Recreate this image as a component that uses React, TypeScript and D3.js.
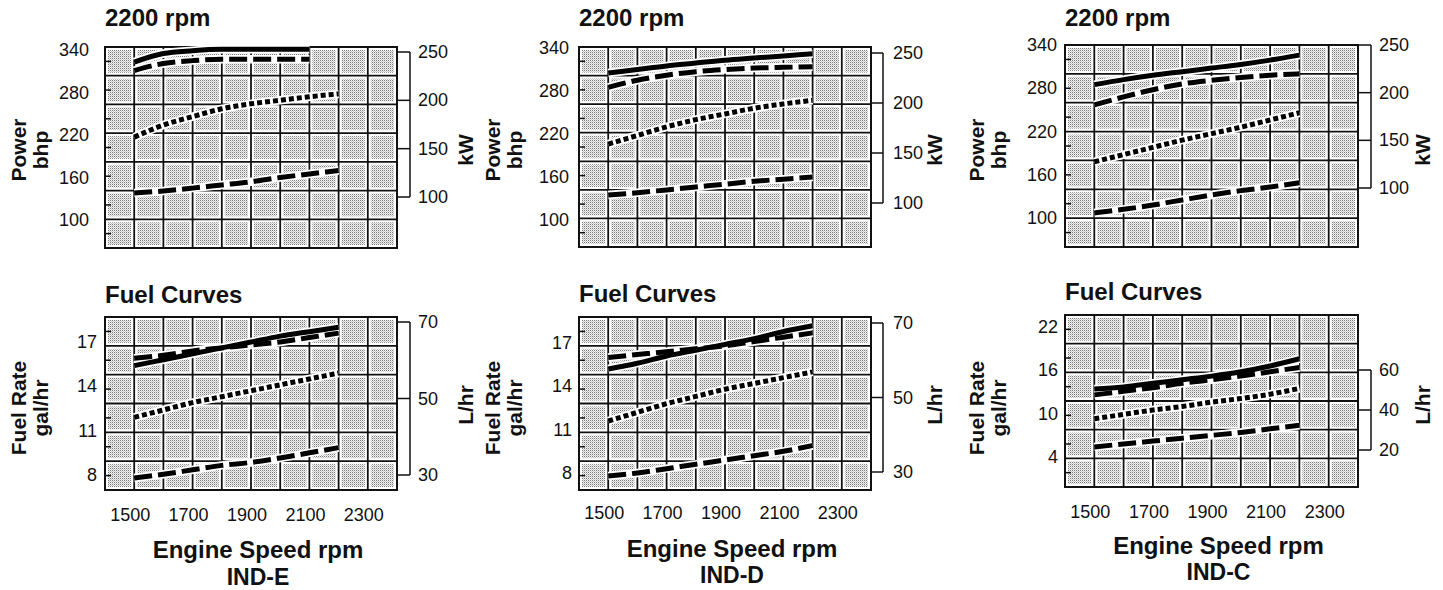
import React from 'react';
import * as d3 from 'd3';

// ---------------- data ----------------
const RPM = [1500, 1600, 1700, 1800, 1900, 2000, 2100, 2200];
const RPM_SHORT = [1500, 1600, 1700, 1800, 1900, 2000, 2100];

const X_TICKS = [1500, 1700, 1900, 2100, 2300];
const POWER_TICKS = [340, 280, 220, 160, 100];
const KW_TICKS = [250, 200, 150, 100];
const FUEL_TICKS_ED = [17, 14, 11, 8];
const LHR_TICKS_ED = [70, 50, 30];
const FUEL_TICKS_C = [22, 16, 10, 4];
const LHR_TICKS_C = [60, 40, 20];

// IND-E power (bhp)
const E_PWR_SOLID = [323, 335, 339, 341, 341, 341, 341];
const E_PWR_DASH = [311, 321, 325, 327, 327, 327, 327];
const E_PWR_DOT = [217, 234, 246, 257, 264, 269, 274, 278];
const E_PWR_DASH2 = [138, 141, 145, 149.5, 154, 160, 165, 170];
// IND-E fuel (gal/hr)
const E_FUEL_SOLID = [15.4, 15.8, 16.2, 16.6, 17.0, 17.4, 17.7, 18.0];
const E_FUEL_DASH = [15.9, 16.1, 16.4, 16.6, 16.8, 17.0, 17.3, 17.6];
const E_FUEL_DOT = [11.9, 12.4, 12.9, 13.3, 13.7, 14.1, 14.5, 14.9];
const E_FUEL_DASH2 = [7.8, 8.05, 8.35, 8.65, 8.85, 9.15, 9.5, 9.85];

// IND-D power
const D_PWR_SOLID = [305, 310, 315, 319, 323, 326, 329, 332];
const D_PWR_DASH = [285, 295, 302, 307, 310, 312, 313, 314];
const D_PWR_DOT = [206, 218, 230, 240, 248, 256, 262, 267];
const D_PWR_DASH2 = [135, 138, 142, 146, 150, 154, 157, 160];
// IND-D fuel
const D_FUEL_SOLID = [15.2, 15.6, 16.1, 16.5, 16.9, 17.3, 17.8, 18.2];
const D_FUEL_DASH = [16.0, 16.2, 16.4, 16.6, 16.8, 17.1, 17.4, 17.7];
const D_FUEL_DOT = [11.6, 12.2, 12.8, 13.3, 13.8, 14.2, 14.6, 15.0];
const D_FUEL_DASH2 = [7.8, 8.0, 8.3, 8.6, 8.9, 9.2, 9.5, 9.9];

// IND-C power
const C_PWR_SOLID = [285, 292, 298, 303, 308, 313, 319, 326];
const C_PWR_DASH = [257, 268, 278, 286, 291, 295, 298, 300];
const C_PWR_DOT = [178, 188, 198, 208, 217, 226, 236, 246];
const C_PWR_DASH2 = [107, 112, 118, 125, 132, 138, 143, 149];
// IND-C fuel
const C_FUEL_SOLID = [13.4, 13.7, 14.2, 14.7, 15.2, 15.8, 16.6, 17.6];
const C_FUEL_DASH = [12.6, 13.1, 13.6, 14.2, 14.7, 15.2, 15.8, 16.4];
const C_FUEL_DOT = [9.3, 9.9, 10.5, 11.0, 11.6, 12.1, 12.7, 13.5];
const C_FUEL_DASH2 = [5.4, 5.8, 6.2, 6.6, 7.0, 7.4, 7.9, 8.4];

// ---------------- styling ----------------
const FONT = "'Liberation Sans', Arial, Helvetica, sans-serif";
const DASHES: Record<string, string | undefined> = {
  solid: undefined,
  dash: '18 6',
  dot: '5 3',
};

type Series = { style: 'solid' | 'dash' | 'dot'; x: number[]; y: number[] };

type PlotProps = {
  x0: number; x1: number; top: number; bottom: number; rows: number;
  yDom: [number, number]; yRng: [number, number];
  leftTicks: number[]; leftLabelX: number;
  rDom: [number, number]; rRng: [number, number];
  rightTicks: number[]; bracketX: number; rightLabelX: number;
  leftTitle: [string, string]; leftTitleX: [number, number]; leftTitleY: number;
  rightTitle: string; rightTitleX: number; rightTitleY: number;
  title: string; titleY: number;
  series: Series[];
  xTickY?: number;
  id: string;
};

function Plot(p: PlotProps) {
  const x = d3.scaleLinear().domain([1400, 2400]).range([p.x0, p.x1]);
  const y = d3.scaleLinear().domain(p.yDom).range(p.yRng);
  const r = d3.scaleLinear().domain(p.rDom).range(p.rRng);
  const cols = 10;
  const cw = (p.x1 - p.x0) / cols;
  const rh = (p.bottom - p.top) / p.rows;
  const cells: JSX.Element[] = [];
  for (let i = 0; i < cols; i++) {
    for (let j = 0; j < p.rows; j++) {
      cells.push(
        <rect key={`c${i}-${j}`} x={p.x0 + i * cw + 3} y={p.top + j * rh + 3}
          width={cw - 6} height={rh - 6} fill="url(#stip)" />
      );
    }
  }
  const line = d3.line<[number, number]>()
    .x(d => x(d[0])).y(d => y(d[1])).curve(d3.curveMonotoneX);
  const rTickYs = p.rightTicks.map(t => r(t));
  const rMin = Math.min(...rTickYs), rMax = Math.max(...rTickYs);
  const clipId = `clip-${p.id}`;
  return (
    <g>
      <defs>
        <clipPath id={clipId}>
          <rect x={p.x0 - 1} y={p.top - 1} width={p.x1 - p.x0 + 2} height={p.bottom - p.top + 2} />
        </clipPath>
      </defs>
      <rect x={p.x0} y={p.top} width={p.x1 - p.x0} height={p.bottom - p.top} fill="#fff" />
      {cells}
      {d3.range(1, cols).map(i => (
        <line key={`v${i}`} x1={p.x0 + i * cw} x2={p.x0 + i * cw} y1={p.top} y2={p.bottom}
          stroke="#111" strokeWidth={1.8} />
      ))}
      {d3.range(1, p.rows).map(j => (
        <line key={`h${j}`} x1={p.x0} x2={p.x1} y1={p.top + j * rh} y2={p.top + j * rh}
          stroke="#111" strokeWidth={1.8} />
      ))}
      {d3.range(p.rows).map(j => (
        <line key={`mt${j}`} x1={p.x0} x2={p.x0 + 6} y1={p.top + (j + 0.5) * rh} y2={p.top + (j + 0.5) * rh}
          stroke="#111" strokeWidth={1.5} />
      ))}
      <rect x={p.x0} y={p.top} width={p.x1 - p.x0} height={p.bottom - p.top}
        fill="none" stroke="#111" strokeWidth={2} />
      <g clipPath={`url(#${clipId})`}>
        {p.series.map((s, k) => {
          const pts = s.x.map((v, i) => [v, s.y[i]] as [number, number]);
          return (
            <path key={`w${k}`} d={line(pts) || ''} fill="none" stroke="#fff" strokeWidth={8.5} strokeLinecap="butt" />
          );
        })}
        {p.series.map((s, k) => {
          const pts = s.x.map((v, i) => [v, s.y[i]] as [number, number]);
          return (
            <path key={`s${k}`} d={line(pts) || ''} fill="none" stroke="#000"
              strokeWidth={5} strokeDasharray={DASHES[s.style]} />
          );
        })}
      </g>
      {/* left ticks */}
      {p.leftTicks.map(t => (
        <text key={`lt${t}`} x={p.leftLabelX} y={y(t)} textAnchor="end" dominantBaseline="central"
          fontFamily={FONT} fontSize={18} fill="#111">{t}</text>
      ))}
      {/* right bracket axis */}
      {p.rightTicks.map(t => (
        <line key={`rt${t}`} x1={p.x1} x2={p.bracketX} y1={r(t)} y2={r(t)} stroke="#111" strokeWidth={1.5} />
      ))}
      <line x1={p.bracketX} x2={p.bracketX} y1={rMin} y2={rMax} stroke="#111" strokeWidth={1.5} />
      {p.rightTicks.map(t => (
        <text key={`rl${t}`} x={p.rightLabelX} y={r(t)} textAnchor="start" dominantBaseline="central"
          fontFamily={FONT} fontSize={18} fill="#111">{t}</text>
      ))}
      {/* titles */}
      <text x={p.x0} y={p.titleY} fontFamily={FONT} fontWeight="bold" fontSize={24} fill="#111">{p.title}</text>
      {p.leftTitle.map((tx, i) => (
        <text key={`ltt${i}`} transform={`translate(${p.leftTitleX[i]},${p.leftTitleY}) rotate(-90)`}
          textAnchor="middle" dominantBaseline="central" fontFamily={FONT} fontWeight="bold" fontSize={21} fill="#111">{tx}</text>
      ))}
      <text transform={`translate(${p.rightTitleX},${p.rightTitleY}) rotate(-90)`}
        textAnchor="middle" dominantBaseline="central" fontFamily={FONT} fontWeight="bold" fontSize={21} fill="#111">{p.rightTitle}</text>
      {p.xTickY !== undefined && X_TICKS.map(t => (
        <text key={`xt${t}`} x={x(t) - 4} y={p.xTickY} textAnchor="middle"
          fontFamily={FONT} fontSize={18} fill="#111">{t}</text>
      ))}
    </g>
  );
}

type Model = {
  name: string;
  x0: number; x1: number;
  pTop: number; pBot: number; p340: number; p100: number; kw250: number; kw100: number;
  fTop: number; fBot: number; fTicks: number[]; fHiY: number; fLoY: number;
  lTicks: number[]; lHiY: number; lLoY: number;
  leftLabelDxP: number; leftLabelDxF: number;
  bracketDx: number; rightLabelDx: number;
  ltx: [number, number]; rtx: number;
  pTitleY: number; fTitleY: number; xTickY: number;
  xlabY: number; nameY: number;
  pwr: number[][]; fuel: number[][];
};

const MODELS: Model[] = [
  {
    name: 'IND-E', x0: 105, x1: 397,
    pTop: 47, pBot: 248, p340: 50, p100: 220, kw250: 52, kw100: 197,
    fTop: 317, fBot: 490, fTicks: FUEL_TICKS_ED, fHiY: 342, fLoY: 475,
    lTicks: LHR_TICKS_ED, lHiY: 322, lLoY: 475,
    leftLabelDxP: -16, leftLabelDxF: -8, bracketDx: 13, rightLabelDx: 21,
    ltx: [18, 40], rtx: 465, pTitleY: 26, fTitleY: 303, xTickY: 521, xlabY: 558, nameY: 585,
    pwr: [E_PWR_SOLID, E_PWR_DASH, E_PWR_DOT, E_PWR_DASH2],
    fuel: [E_FUEL_SOLID, E_FUEL_DASH, E_FUEL_DOT, E_FUEL_DASH2],
  },
  {
    name: 'IND-D', x0: 579, x1: 871,
    pTop: 47, pBot: 247, p340: 48, p100: 220, kw250: 53, kw100: 203,
    fTop: 317, fBot: 490, fTicks: FUEL_TICKS_ED, fHiY: 343, fLoY: 473,
    lTicks: LHR_TICKS_ED, lHiY: 323, lLoY: 472,
    leftLabelDxP: -10, leftLabelDxF: -7, bracketDx: 12, rightLabelDx: 22,
    ltx: [492, 514], rtx: 934, pTitleY: 26, fTitleY: 302, xTickY: 519, xlabY: 557, nameY: 583,
    pwr: [D_PWR_SOLID, D_PWR_DASH, D_PWR_DOT, D_PWR_DASH2],
    fuel: [D_FUEL_SOLID, D_FUEL_DASH, D_FUEL_DOT, D_FUEL_DASH2],
  },
  {
    name: 'IND-C', x0: 1065, x1: 1358,
    pTop: 45, pBot: 247, p340: 45, p100: 218, kw250: 45, kw100: 188,
    fTop: 315, fBot: 487, fTicks: FUEL_TICKS_C, fHiY: 327, fLoY: 457,
    lTicks: LHR_TICKS_C, lHiY: 370, lLoY: 450,
    leftLabelDxP: -8, leftLabelDxF: -7, bracketDx: 13, rightLabelDx: 21,
    ltx: [976, 998], rtx: 1422, pTitleY: 26, fTitleY: 300, xTickY: 518, xlabY: 554, nameY: 580,
    pwr: [C_PWR_SOLID, C_PWR_DASH, C_PWR_DOT, C_PWR_DASH2],
    fuel: [C_FUEL_SOLID, C_FUEL_DASH, C_FUEL_DOT, C_FUEL_DASH2],
  },
];

const STYLES: Array<'solid' | 'dash' | 'dot'> = ['solid', 'dash', 'dot', 'dash'];

export default function App() {
  return (
    <svg width={1443} height={590} style={{ position: 'absolute', left: 0, top: 0, background: '#fff' }}>
      <defs>
        <pattern id="stip" width={2} height={2} patternUnits="userSpaceOnUse">
          <rect width={2} height={2} fill="#f4f4f4" />
          <rect x={0} y={0} width={1} height={1} fill="#7a7a7a" />
          <rect x={1} y={1} width={1} height={1} fill="#c4c4c4" />
        </pattern>
      </defs>
      <rect width={1443} height={590} fill="#fff" />
      {MODELS.map(m => {
        const pwrSeries: Series[] = m.pwr.map((vals, i) => ({
          style: STYLES[i],
          x: vals.length === RPM.length ? RPM : RPM_SHORT,
          y: vals,
        }));
        const fuelSeries: Series[] = m.fuel.map((vals, i) => ({ style: STYLES[i], x: RPM, y: vals }));
        const fHi = m.fTicks[0], fLo = m.fTicks[m.fTicks.length - 1];
        const lHi = m.lTicks[0], lLo = m.lTicks[m.lTicks.length - 1];
        const cx = (m.x0 + m.x1) / 2 + 7;
        return (
          <g key={m.name}>
            <Plot id={`${m.name}-p`} x0={m.x0} x1={m.x1} top={m.pTop} bottom={m.pBot} rows={7}
              yDom={[100, 340]} yRng={[m.p100, m.p340]}
              leftTicks={POWER_TICKS} leftLabelX={m.x0 + m.leftLabelDxP}
              rDom={[KW_TICKS[KW_TICKS.length - 1], KW_TICKS[0]]} rRng={[m.kw100, m.kw250]} rightTicks={KW_TICKS}
              bracketX={m.x1 + m.bracketDx} rightLabelX={m.x1 + m.rightLabelDx}
              leftTitle={['Power', 'bhp']} leftTitleX={m.ltx} leftTitleY={150}
              rightTitle="kW" rightTitleX={m.rtx} rightTitleY={150}
              title="2200 rpm" titleY={m.pTitleY} series={pwrSeries} />
            <Plot id={`${m.name}-f`} x0={m.x0} x1={m.x1} top={m.fTop} bottom={m.fBot} rows={6}
              yDom={[fLo, fHi]} yRng={[m.fLoY, m.fHiY]}
              leftTicks={m.fTicks} leftLabelX={m.x0 + m.leftLabelDxF}
              rDom={[lLo, lHi]} rRng={[m.lLoY, m.lHiY]} rightTicks={m.lTicks}
              bracketX={m.x1 + m.bracketDx} rightLabelX={m.x1 + m.rightLabelDx}
              leftTitle={['Fuel Rate', 'gal/hr']} leftTitleX={m.ltx} leftTitleY={408}
              rightTitle="L/hr" rightTitleX={m.rtx} rightTitleY={405}
              title="Fuel Curves" titleY={m.fTitleY} series={fuelSeries} xTickY={m.xTickY} />
            <text x={cx} y={m.xlabY} textAnchor="middle" fontFamily={FONT} fontWeight="bold" fontSize={24} fill="#111">Engine Speed rpm</text>
            <text x={cx} y={m.nameY} textAnchor="middle" fontFamily={FONT} fontWeight="bold" fontSize={23} fill="#111">{m.name}</text>
          </g>
        );
      })}
    </svg>
  );
}
